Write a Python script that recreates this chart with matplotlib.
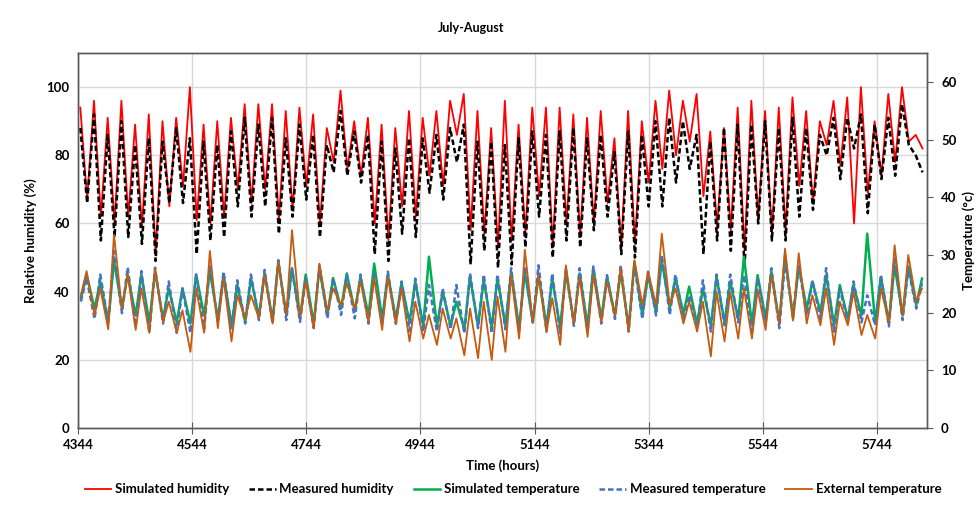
import numpy as np
import matplotlib.pyplot as plt

plt.rcParams['font.family'] = ['Lato', 'DejaVu Sans']
plt.rcParams['font.weight'] = 'bold'

start_hour = 4344
end_hour = 5832
n_days = 62

# daily readings (peak / trough) taken off the chart, July 1 .. August 31
rh_sim_max = [94, 96, 91, 96, 89, 92, 90, 91, 100, 89, 90,
              91, 95, 95, 95, 93, 94, 92, 88, 99, 90, 91,
              89, 88, 93, 91, 93, 96, 98, 93, 88, 96,
              89, 94, 94, 94, 92, 91, 93, 85, 93, 90,
              96, 99, 96, 98, 87, 88, 94, 96, 93, 94,
              97, 93, 90, 96, 97, 100, 90, 98, 100, 86]
rh_sim_min = [67, 62, 60, 62, 59, 51, 65, 71, 61, 60, 62,
              70, 66, 70, 61, 64, 71, 60, 78, 76, 74, 60,
              55, 65, 62, 74, 71, 86, 58, 57, 53, 55,
              57, 68, 53, 60, 56, 60, 66, 53, 54, 72,
              76, 80, 84, 68, 59, 58, 52, 61, 57, 58,
              71, 66, 83, 77, 60, 69, 74, 78, 84, 82]
rh_meas_max = [88, 92, 86, 90, 83, 85, 84, 88, 85, 84, 83,
               87, 91, 89, 91, 85, 89, 86, 83, 93, 87, 86,
               84, 82, 85, 85, 86, 88, 89, 84, 84, 83,
               85, 87, 86, 87, 88, 85, 86, 81, 87, 86,
               90, 91, 90, 86, 84, 88, 89, 89, 90, 88,
               91, 88, 86, 91, 91, 92, 89, 91, 95, 80]
rh_meas_min = [66, 55, 56, 56, 54, 49, 66, 66, 51, 55, 56,
               65, 62, 65, 57, 62, 67, 56, 75, 74, 72, 51,
               49, 57, 56, 69, 67, 78, 48, 52, 47, 48,
               53, 62, 50, 55, 53, 58, 62, 51, 50, 65,
               65, 72, 76, 51, 55, 52, 47, 60, 55, 55,
               62, 64, 80, 73, 82, 63, 73, 74, 83, 75]

t_sim_max = [26.6, 25.4, 29.0, 26.6, 26.6, 27.2, 24.2, 24.2, 26.6, 27.2,
             26.6, 24.8, 26.0, 26.8, 28.8, 27.7, 26.6, 27.7, 26.0, 26.8, 26.2,
             28.5, 26.6, 25.1, 25.4, 29.7, 23.6, 21.9, 26.2, 25.6, 25.9,
             27.1, 27.1, 26.5, 25.9, 27.1, 26.8, 27.7, 26.2, 27.1, 28.8, 26.5,
             29.1, 26.0, 24.5, 24.2, 26.2, 25.4, 29.7, 26.5, 27.1, 30.0,
             28.1, 25.4, 26.5, 24.8, 24.8, 33.7, 26.2, 28.2, 28.0, 25.9]
t_sim_min = [22.5, 20.7, 18.3, 20.7, 19.5, 18.3, 18.9, 18.3, 18.1, 19.5,
             18.9, 17.8, 18.4, 19.3, 18.7, 19.6, 19.0, 18.1, 19.6, 20.7, 20.2,
             19.5, 18.9, 18.9, 18.3, 17.7, 17.7, 17.7, 17.1, 17.7, 17.4, 17.7,
             17.3, 18.3, 17.7, 17.4, 18.3, 17.7, 18.9, 19.5, 17.4, 19.5,
             20.1, 20.7, 19.8, 18.0, 17.7, 18.3, 18.9, 18.0, 18.9, 18.3,
             18.9, 20.7, 20.1, 17.8, 18.9, 19.5, 18.3, 18.3, 19.5, 21.3]
t_meas_max = [26.0, 26.6, 30.7, 27.8, 27.2, 27.8, 25.4, 24.2, 26.6, 28.4,
              27.1, 25.6, 26.6, 27.4, 29.1, 27.7, 26.0, 28.2, 26.0, 26.6, 26.6,
              26.6, 27.1, 25.4, 25.9, 24.8, 24.2, 24.8, 26.8, 26.6, 26.6,
              27.7, 28.0, 28.2, 26.8, 27.7, 27.7, 28.0, 26.5, 28.2, 28.2, 27.1,
              30.0, 26.6, 23.0, 25.6, 26.6, 26.6, 26.5, 25.9, 27.7, 28.8,
              28.2, 25.6, 27.7, 24.2, 25.4, 23.0, 26.5, 29.4, 27.7, 25.1]
t_meas_min = [21.9, 18.9, 18.3, 19.9, 17.7, 16.5, 18.1, 16.5, 16.5, 17.1,
              18.3, 17.3, 18.1, 18.7, 18.1, 18.7, 18.4, 17.3, 19.0, 19.6, 19.0,
              18.1, 18.1, 18.1, 16.8, 16.7, 16.7, 17.1, 16.4, 17.3, 16.4, 17.1,
              16.7, 18.3, 16.7, 16.4, 17.7, 16.7, 18.1, 18.9, 16.7, 18.9,
              19.5, 19.6, 18.9, 17.3, 16.7, 17.8, 18.3, 16.7, 18.3, 17.3,
              19.5, 19.5, 18.9, 16.7, 18.3, 18.3, 17.8, 17.6, 18.7, 20.7]
t_ext_max = [27.2, 24.2, 33.5, 26.6, 24.2, 27.7, 21.9, 20.4, 24.2, 30.7,
             26.0, 23.0, 23.0, 26.5, 28.8, 34.3, 25.4, 28.5, 24.2, 25.1, 25.4,
             26.0, 26.2, 24.2, 21.9, 19.6, 20.7, 19.0, 20.7, 21.9, 22.8,
             26.5, 30.9, 26.5, 22.5, 28.2, 26.2, 26.5, 25.4, 27.7, 29.1, 27.1,
             33.7, 24.2, 21.9, 21.9, 23.6, 23.6, 24.2, 23.9, 26.5, 31.1,
             30.3, 23.0, 24.2, 21.9, 23.6, 19.6, 24.2, 31.7, 30.0, 24.2]
t_ext_min = [23.0, 19.5, 17.1, 20.7, 17.0, 16.5, 18.3, 16.5, 13.2, 16.5,
             17.3, 15.0, 19.0, 19.0, 18.1, 19.6, 19.3, 17.3, 20.2, 21.3, 20.7,
             18.3, 17.0, 18.0, 15.0, 15.5, 14.4, 15.5, 12.6, 12.1, 11.8, 13.2,
             15.5, 18.3, 16.7, 14.4, 18.1, 15.8, 18.3, 19.5, 16.7, 21.3,
             21.3, 21.3, 18.1, 16.7, 12.4, 15.0, 15.5, 15.5, 17.0, 18.1,
             18.6, 18.1, 17.8, 14.4, 17.8, 16.1, 15.5, 18.3, 19.5, 21.9]

x_ticks = list(range(4344, 5745, 200))

# humidity peaks early morning, troughs in the afternoon; temperature the other way round
days = np.arange(n_days)
t_rh = np.column_stack([start_hour + 24 * days + 4, start_hour + 24 * days + 16]).ravel()
t_tp = np.column_stack([start_hour + 24 * days + 5, start_hour + 24 * days + 15]).ravel()


def weave(a, b):
    return np.column_stack([a, b]).ravel()


fig = plt.figure(figsize=(9.79, 5.15), dpi=100)
fig.subplots_adjust(left=0.0797, right=0.947, top=0.897, bottom=0.169)
ax = fig.add_subplot(111)
ax2 = ax.twinx()

l1, = ax.plot(t_rh, weave(rh_sim_max, rh_sim_min), color='#FF0000', lw=1.3,
              label='Simulated humidity')
l2, = ax.plot(t_rh, weave(rh_meas_max, rh_meas_min), color='black', lw=1.8,
              ls=(0, (2.2, 1.2)), label='Measured humidity')
l3, = ax2.plot(t_tp, weave(t_sim_min, t_sim_max), color='#00B050', lw=1.8,
               label='Simulated temperature')
l4, = ax2.plot(t_tp, weave(t_meas_min, t_meas_max), color='#4472C4', lw=1.8,
               ls=(0, (2.2, 1.2)), label='Measured temperature')
l5, = ax2.plot(t_tp, weave(t_ext_min, t_ext_max), color='#C55A11', lw=1.3,
               label='External temperature')

ax.set_xlim(start_hour, end_hour)
ax.set_ylim(0, 110)
ax2.set_ylim(0, 65)
ax.set_xticks(x_ticks)
ax.set_yticks(range(0, 101, 20))
ax2.set_yticks(range(0, 61, 10))

ax.grid(True, color='#D9D9D9', lw=1.0)
ax.set_axisbelow(True)

for a in (ax, ax2):
    for s in a.spines.values():
        s.set_color('#595959')
        s.set_linewidth(1.0)
ax.tick_params(axis='x', direction='inout', length=8, color='#595959', labelsize=9.5, pad=4)
ax.tick_params(axis='y', length=0, labelsize=9.5, pad=6)
ax2.tick_params(axis='y', direction='out', length=4, color='#595959', labelsize=9.5, pad=6)

ax.set_xlabel('Time (hours)', fontsize=9.5, fontweight='bold', labelpad=6)
ax.set_ylabel('Relative humidity (%)', fontsize=9.5, fontweight='bold', labelpad=7)
ax2.set_ylabel('Temperature (°c)', fontsize=9.5, fontweight='bold', labelpad=4)

fig.text(0.481, 0.945, 'July-August', ha='center', va='center', fontsize=9, fontweight='bold')

fig.legend(handles=[l1, l2, l3, l4, l5], loc='center', bbox_to_anchor=(0.524, 0.05),
           ncol=5, frameon=False, fontsize=9.5, handlelength=2.0, handletextpad=0.3,
           columnspacing=1.5)

fig.savefig('out.png', dpi=100)
